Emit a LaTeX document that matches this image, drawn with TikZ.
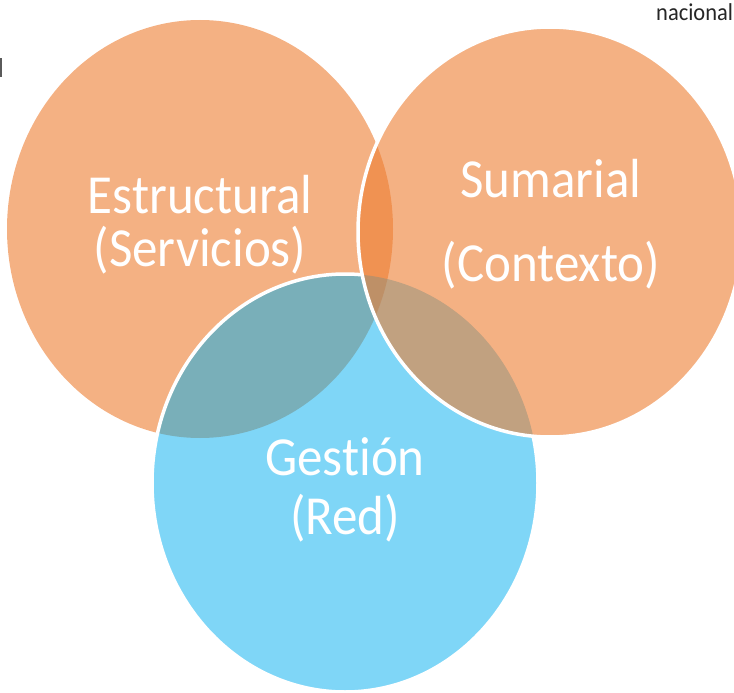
\documentclass[tikz,border=0pt]{standalone}
\usepackage{fontspec}
\setmainfont[Ligatures=NoCommon]{Carlito}

\definecolor{vennorange}{RGB}{237,125,49}
\definecolor{vennblue}{RGB}{0,173,239}
\definecolor{cutgrey}{RGB}{90,90,90}

\begin{document}
\begin{tikzpicture} [
                x=1pt, y=1pt,
                orangeset/.style={fill=vennorange, fill opacity=0.6},
                blueset/.style={fill=vennblue, fill opacity=0.5},
                rim/.style={draw=white, line width=3.5pt},
                label/.style={text=white, align=center, anchor=base, transform shape, yscale=1.08},
            ]
            \useasboundingbox (0,0) rectangle (734,-693);
            \clip (0,0) rectangle (734,-693);
            % centres of the three sets
            \coordinate (estr) at (200,-229);
            \coordinate (sum) at (550,-232);
            \coordinate (gest) at (345,-483);
            % fills: left, bottom, then right on top
            \path[orangeset] (estr) ellipse [x radius=193, y radius=209];
            \path[blueset] (gest) ellipse [x radius=193, y radius=209];
            \path[orangeset] (sum) ellipse [x radius=192, y radius=205];
            % white rims
            \begin{scope}[even odd rule]
                \clip (0,0) rectangle (734,-693)
                    (sum) ellipse [x radius=192, y radius=205];
                \path[rim] (gest) ellipse [x radius=193, y radius=209];
            \end{scope}
            \path[rim] (sum) ellipse [x radius=192, y radius=205];
            % texts (base = last line)
            \node[label, font=\fontsize{51}{49}\selectfont] (estrtext) at (200,-266)
                {Estructural\\(Servicios)};
            \node[label, font=\fontsize{51}{77}\selectfont] (sumtext) at (551,-281)
                {Sumarial\\(Contexto)};
            \node[label, font=\fontsize{51}{54}\selectfont] (gesttext) at (345,-534)
                {Gestión\\(Red)};
            \node[anchor=base west, inner sep=0pt, text=black!85, transform shape, yscale=1.08,
                font=\fontsize{22.5}{22.5}\selectfont] (nac) at (656,-21) {nacional};
            \fill[cutgrey] (0,-58) rectangle (2,-77);
        \end{tikzpicture}
\end{document}
